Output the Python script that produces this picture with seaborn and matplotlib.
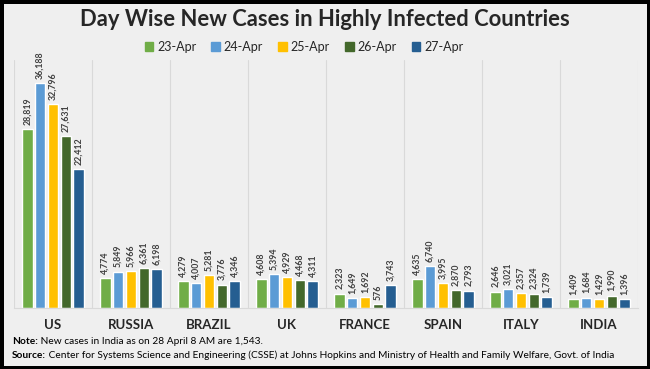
import matplotlib
matplotlib.use("Agg")
import matplotlib.pyplot as plt
import seaborn as sns
import pandas as pd

countries = ["US", "RUSSIA", "BRAZIL", "UK", "FRANCE", "SPAIN", "ITALY", "INDIA"]
dates = ["23-Apr", "24-Apr", "25-Apr", "26-Apr", "27-Apr"]
apr23 = [28819, 4774, 4279, 4608, 2323, 4635, 2646, 1409]
apr24 = [36188, 5849, 4007, 5394, 1649, 6740, 3021, 1684]
apr25 = [32796, 5966, 5281, 4929, 1692, 3995, 2357, 1429]
apr26 = [27631, 6361, 3776, 4468, 576, 2870, 2324, 1990]
apr27 = [22412, 6198, 4346, 4311, 3743, 2793, 1739, 1396]
colors = ["#70AD47", "#5B9BD5", "#FFC000", "#43682B", "#255E91"]

rows = []
for d, vals in zip(dates, [apr23, apr24, apr25, apr26, apr27]):
    for c, v in zip(countries, vals):
        rows.append({"country": c, "date": d, "cases": v})
df = pd.DataFrame(rows)

sns.set_style("white")
plt.rcParams["font.family"] = ["Lato", "DejaVu Sans"]
bg = "#EFEFEF"

fig = plt.figure(figsize=(6.5, 3.69), dpi=100)
fig.patch.set_facecolor(bg)
fig.patch.set_edgecolor("black")
fig.patch.set_linewidth(5)

ax = fig.add_axes([14 / 650, 1 - 308 / 369, 624 / 650, 248 / 369])
ax.set_facecolor(bg)
sns.barplot(data=df, x="country", y="cases", hue="date", palette=colors,
            saturation=1, width=0.82, gap=0.18, ax=ax, legend=False)
ax.set_ylim(0, 39900)
ax.set_xlim(-0.5, len(countries) - 0.5)

for c in ax.containers:
    ax.bar_label(c, labels=[f"{int(v):,}" for v in c.datavalues], rotation=90,
                 padding=3, fontsize=6.3, fontweight="bold", color="#404040",
                 clip_on=False)

for i in range(len(countries) + 1):
    ax.axvline(i - 0.5, color="#D9D9D9", lw=0.8, zorder=0)

for s in ["top", "right", "left"]:
    ax.spines[s].set_visible(False)
ax.spines["bottom"].set_color("#D9D9D9")
ax.set_yticks([])
ax.set_xlabel("")
ax.set_ylabel("")
ax.tick_params(axis="x", length=0, pad=8)
for lab in ax.get_xticklabels():
    lab.set_fontweight("bold")
    lab.set_fontsize(9.5)
    lab.set_color("#262626")

handles = [plt.Rectangle((0, 0), 1, 1, color=col) for col in colors]
fig.legend(handles, dates, loc="center", bbox_to_anchor=(304 / 650, 1 - 47 / 369),
           ncol=5, frameon=False, fontsize=9, handlelength=0.7, handleheight=0.7,
           columnspacing=1.2, handletextpad=0.3)

fig.text(325 / 650, 1 - 20 / 369, "Day Wise New Cases in Highly Infected Countries",
         ha="center", va="center", fontsize=15.8, fontweight="bold", color="#262626")

fig.canvas.draw()
r = fig.canvas.get_renderer()
for y, head, rest in [(341, "Note:", " New cases in India as on 28 April 8 AM are 1,543."),
                      (355, "Source:", " Center for Systems Science and Engineering (CSSE) at Johns Hopkins and Ministry of Health and Family Welfare, Govt. of India")]:
    t = fig.text(12 / 650, 1 - y / 369, head, ha="left", va="center", fontsize=7.3,
                 fontweight="bold", color="black")
    bb = t.get_window_extent(renderer=r)
    fig.text(bb.x1 / fig.bbox.width, 1 - y / 369, rest, ha="left", va="center",
             fontsize=7.3, color="black")

fig.savefig("out.png", dpi=100, facecolor=bg, edgecolor="black")
